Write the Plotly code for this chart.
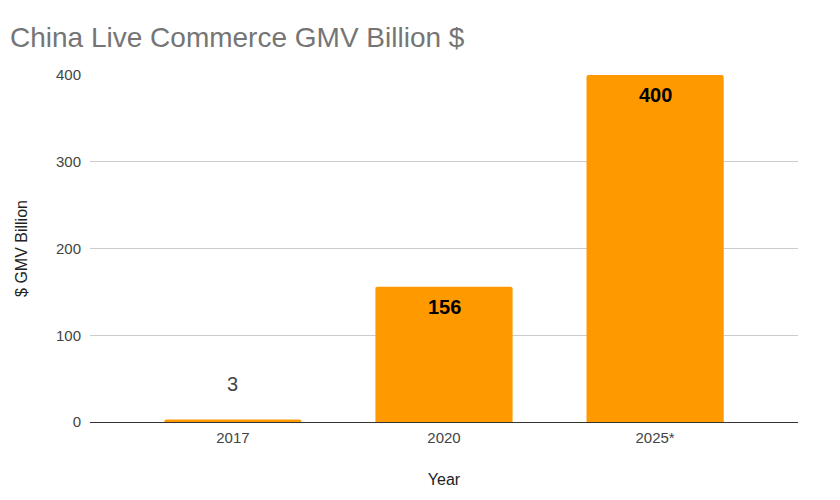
import plotly.graph_objects as go

years = ["2017", "2020", "2025*"]
gmv = [3, 156, 400]

fig = go.Figure()
fig.add_trace(go.Bar(
    x=years, y=gmv,
    marker=dict(color="#FF9900", cornerradius=2, line=dict(width=0)),
    width=0.65,
    hoverinfo="x+y",
))

annotations = []
for i, v in enumerate(gmv):
    inside = v > 50
    annotations.append(dict(
        x=i, y=v, xref="x", yref="y",
        text=f"<b>{v}</b>" if inside else str(v),
        showarrow=False,
        yanchor="top" if inside else "bottom",
        yshift=-7 if inside else 22,
        font=dict(family="Liberation Sans, Arial, sans-serif", size=20,
                  color="#000000" if inside else "#444444"),
    ))

fig.update_layout(
    width=840, height=500,
    paper_bgcolor="white", plot_bgcolor="white",
    margin=dict(l=82, r=50, t=67, b=86),
    title=dict(text="China Live Commerce GMV Billion $", x=0.0024, xanchor="left",
               y=0.942, yanchor="middle",
               font=dict(family="Liberation Sans, Arial, sans-serif", size=28, color="#757575")),
    font=dict(family="Liberation Sans, Arial, sans-serif", color="#444444", size=15),
    annotations=annotations,
    showlegend=False,
    bargap=0.35,
)
fig.update_xaxes(
    type="category",
    range=[-0.677, 2.677], showgrid=False, ticks="", showline=False,
    tickfont=dict(size=15, color="#444444"), ticklabelstandoff=5,
    title=dict(text="Year", font=dict(size=16, color="#222222"), standoff=28),
)
fig.update_yaxes(
    range=[0, 400], dtick=100, showgrid=True, gridcolor="#cccccc", gridwidth=1,
    zeroline=True, zerolinecolor="#333333", zerolinewidth=1,
    ticks="", tickfont=dict(size=15, color="#444444"), ticklabelstandoff=8,
    title=dict(text="$ GMV Billion", font=dict(size=16, color="#222222"), standoff=24),
)

fig.write_html("out.html")
